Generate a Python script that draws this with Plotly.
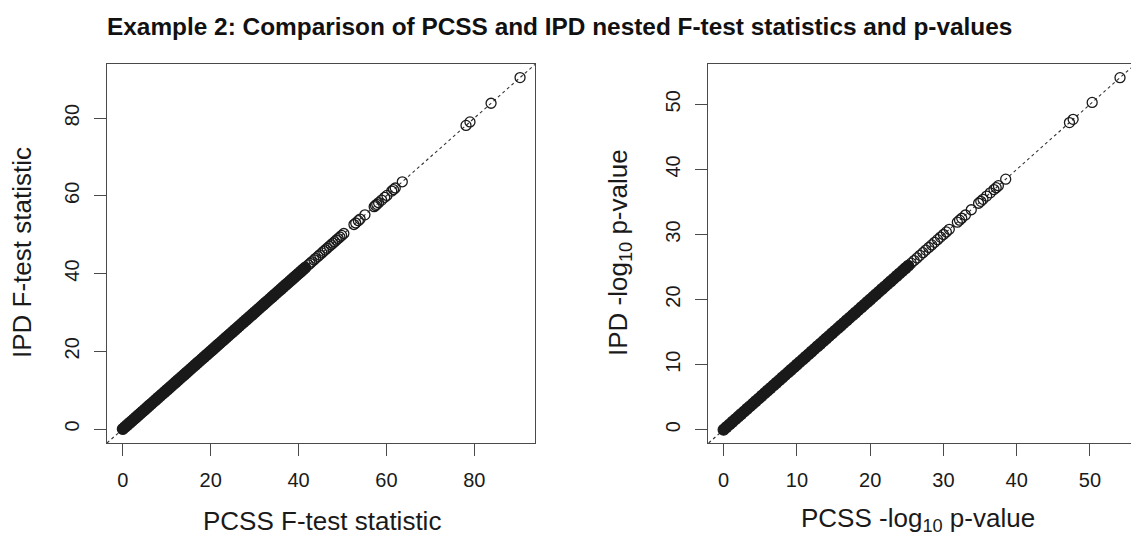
import plotly.graph_objects as go

# ---------------- data (IPD == PCSS, points on y = x) ----------------
pcss_f_dense = [0.0, 0.5, 1.0, 1.5, 2.0, 2.5, 3.0, 3.5, 4.0, 4.5, 5.0, 5.5, 6.0, 6.5, 7.0, 7.5,
                8.0, 8.5, 9.0, 9.5, 10.0, 10.5, 11.0, 11.5, 12.0, 12.5, 13.0, 13.5, 14.0, 14.5,
                15.0, 15.5, 16.0, 16.5, 17.0, 17.5, 18.0, 18.5, 19.0, 19.5, 20.0, 20.5, 21.0,
                21.5, 22.0, 22.5, 23.0, 23.5, 24.0, 24.5, 25.0, 25.5, 26.0, 26.5, 27.0, 27.5,
                28.0, 28.5, 29.0, 29.5, 30.0, 30.5, 31.0, 31.5, 32.0, 32.5, 33.0, 33.5, 34.0,
                34.5, 35.0, 35.5, 36.0, 36.5, 37.0, 37.5, 38.0, 38.5, 39.0, 39.5, 40.0, 40.5,
                41.0, 41.5]
ipd_f_dense = [0.0, 0.5, 1.0, 1.5, 2.0, 2.5, 3.0, 3.5, 4.0, 4.5, 5.0, 5.5, 6.0, 6.5, 7.0, 7.5,
               8.0, 8.5, 9.0, 9.5, 10.0, 10.5, 11.0, 11.5, 12.0, 12.5, 13.0, 13.5, 14.0, 14.5,
               15.0, 15.5, 16.0, 16.5, 17.0, 17.5, 18.0, 18.5, 19.0, 19.5, 20.0, 20.5, 21.0,
               21.5, 22.0, 22.5, 23.0, 23.5, 24.0, 24.5, 25.0, 25.5, 26.0, 26.5, 27.0, 27.5,
               28.0, 28.5, 29.0, 29.5, 30.0, 30.5, 31.0, 31.5, 32.0, 32.5, 33.0, 33.5, 34.0,
               34.5, 35.0, 35.5, 36.0, 36.5, 37.0, 37.5, 38.0, 38.5, 39.0, 39.5, 40.0, 40.5,
               41.0, 41.5]
pcss_f_sparse = [42.2, 42.6, 43.0, 43.5, 43.9, 44.4, 44.8, 45.3, 45.7, 46.1, 46.5, 47.0, 47.4,
                 47.8, 48.2, 48.6, 49.0, 49.4, 49.8, 50.3, 52.6, 53.0, 53.6, 54.0, 55.1, 57.2,
                 57.5, 57.8, 58.2, 58.9, 59.6, 60.1, 61.2, 61.6, 62.0, 63.6, 78.1, 79.0, 83.8, 90.4]
ipd_f_sparse = [42.2, 42.6, 43.0, 43.5, 43.9, 44.4, 44.8, 45.3, 45.7, 46.1, 46.5, 47.0, 47.4,
                47.8, 48.2, 48.6, 49.0, 49.4, 49.8, 50.3, 52.6, 53.0, 53.6, 54.0, 55.1, 57.2,
                57.5, 57.8, 58.2, 58.9, 59.6, 60.1, 61.2, 61.6, 62.0, 63.6, 78.1, 79.0, 83.8, 90.4]

pcss_p_dense = [0.0, 0.4, 0.8, 1.2, 1.6, 2.0, 2.4, 2.8, 3.2, 3.6, 4.0, 4.4, 4.8, 5.2, 5.6, 6.0,
                6.4, 6.8, 7.2, 7.6, 8.0, 8.4, 8.8, 9.2, 9.6, 10.0, 10.4, 10.8, 11.2, 11.6, 12.0,
                12.4, 12.8, 13.2, 13.6, 14.0, 14.4, 14.8, 15.2, 15.6, 16.0, 16.4, 16.8, 17.2,
                17.6, 18.0, 18.4, 18.8, 19.2, 19.6, 20.0, 20.4, 20.8, 21.2, 21.6, 22.0, 22.4,
                22.8, 23.2, 23.6, 24.0, 24.4, 24.8, 25.2]
ipd_p_dense = [0.0, 0.4, 0.8, 1.2, 1.6, 2.0, 2.4, 2.8, 3.2, 3.6, 4.0, 4.4, 4.8, 5.2, 5.6, 6.0,
               6.4, 6.8, 7.2, 7.6, 8.0, 8.4, 8.8, 9.2, 9.6, 10.0, 10.4, 10.8, 11.2, 11.6, 12.0,
               12.4, 12.8, 13.2, 13.6, 14.0, 14.4, 14.8, 15.2, 15.6, 16.0, 16.4, 16.8, 17.2,
               17.6, 18.0, 18.4, 18.8, 19.2, 19.6, 20.0, 20.4, 20.8, 21.2, 21.6, 22.0, 22.4,
               22.8, 23.2, 23.6, 24.0, 24.4, 24.8, 25.2]
pcss_p_sparse = [25.6, 26.0, 26.4, 26.8, 27.2, 27.6, 28.0, 28.4, 28.8, 29.2, 29.6, 30.0, 30.4,
                 30.8, 31.9, 32.2, 32.5, 33.0, 33.8, 34.8, 35.1, 35.4, 35.9, 36.4, 36.9, 37.2,
                 37.5, 38.5, 47.2, 47.7, 50.3, 54.1]
ipd_p_sparse = [25.6, 26.0, 26.4, 26.8, 27.2, 27.6, 28.0, 28.4, 28.8, 29.2, 29.6, 30.0, 30.4,
                30.8, 31.9, 32.2, 32.5, 33.0, 33.8, 34.8, 35.1, 35.4, 35.9, 36.4, 36.9, 37.2,
                37.5, 38.5, 47.2, 47.7, 50.3, 54.1]

f_ticks = [0, 20, 40, 60, 80]
p_ticks = [0, 10, 20, 30, 40, 50]

title_text = "Example 2: Comparison of PCSS and IPD nested F-test statistics and p-values"
xlab_f = "PCSS F-test statistic"
ylab_f = "IPD F-test statistic"
xlab_p = "PCSS -log<sub>10</sub> p-value"
ylab_p = "IPD -log<sub>10</sub> p-value"

# ---------------- layout constants ----------------
W, H = 1131, 538
FONT = "Liberation Sans, Arial, Helvetica, sans-serif"
INK = "#1a1a1a"
AX = "#4a4a4a"

xr_f = [-3.6, 93.8]
yr_f = [-3.6, 93.9]
xr_p = [-2.13, 55.6]
yr_p = [-2.04, 56.2]

def px(x):
    return x / W

def py(y):
    return 1 - y / H

fig = go.Figure()

def add_points(x, y, xa, ya, dense):
    if dense:
        marker = dict(symbol="circle", size=11, color=INK, line=dict(color=INK, width=1.2))
    else:
        marker = dict(symbol="circle-open", size=10, color=INK, line=dict(color=INK, width=1.3))
    fig.add_trace(go.Scatter(x=x, y=y, mode="markers", marker=marker,
                             xaxis=xa, yaxis=ya, showlegend=False, hoverinfo="x+y"))

add_points(pcss_f_dense, ipd_f_dense, "x", "y", True)
add_points(pcss_f_sparse, ipd_f_sparse, "x", "y", False)
add_points(pcss_p_dense, ipd_p_dense, "x2", "y2", True)
add_points(pcss_p_sparse, ipd_p_sparse, "x2", "y2", False)

# identity (abline) reference lines, spanning the visible plotting region
for xref, yref, xr, yr in (("x", "y", xr_f, yr_f), ("x2", "y2", xr_p, yr_p)):
    lo = max(xr[0], yr[0])
    hi = min(xr[1], yr[1])
    fig.add_shape(type="line", xref=xref, yref=yref, x0=lo, y0=lo, x1=hi, y1=hi,
                  line=dict(color="#333333", width=1.1, dash="dot"), layer="below")

tickfont = dict(family=FONT, size=20, color=INK)
common = dict(showgrid=False, zeroline=False, showline=True, linecolor=AX, linewidth=1.4,
              ticks="outside", ticklen=12, tickwidth=1.4, tickcolor=AX, tickfont=tickfont,
              fixedrange=True)

fig.update_layout(
    width=W, height=H,
    margin=dict(l=0, r=0, t=0, b=0),
    paper_bgcolor="white", plot_bgcolor="white",
    font=dict(family=FONT, color=INK),
    xaxis=dict(domain=[px(107), px(535)], range=xr_f, tickvals=f_ticks, mirror=True,
               anchor="y", ticklabelstandoff=7, **common),
    yaxis=dict(domain=[py(443), py(64)], range=yr_f, tickvals=f_ticks, mirror=True,
               anchor="x", tickangle=-90, ticklabelstandoff=7, **common),
    xaxis2=dict(domain=[px(708), 1.0], range=xr_p, tickvals=p_ticks, mirror=True,
                anchor="y2", ticklabelstandoff=7, **common),
    yaxis2=dict(domain=[py(443), py(64)], range=yr_p, tickvals=p_ticks, mirror=False,
                anchor="x2", tickangle=-90, ticklabelstandoff=7, **common),
)

labfont = dict(family=FONT, size=26, color=INK)
ann = [
    dict(text="<b>" + title_text + "</b>", x=px(559), y=py(26), xanchor="center", yanchor="middle",
         font=dict(family=FONT, size=24.4, color="#111111")),
    dict(text=xlab_f, x=px(322), y=py(521), xanchor="center", yanchor="middle", font=labfont),
    dict(text=ylab_f, x=px(22), y=py(253), xanchor="center", yanchor="middle", textangle=-90,
         font=labfont),
    dict(text=xlab_p, x=px(918), y=py(519), xanchor="center", yanchor="middle", font=labfont),
    dict(text=ylab_p, x=px(619), y=py(253), xanchor="center", yanchor="middle", textangle=-90,
         font=labfont),
]
for a in ann:
    fig.add_annotation(xref="paper", yref="paper", showarrow=False, **a)

fig.write_html(
    "out.html",
    config={"displayModeBar": False},
    post_script="document.body.style.margin='0px';document.body.style.padding='0px';"
                "document.body.style.overflow='hidden';"
                "document.documentElement.style.overflow='hidden';",
)
